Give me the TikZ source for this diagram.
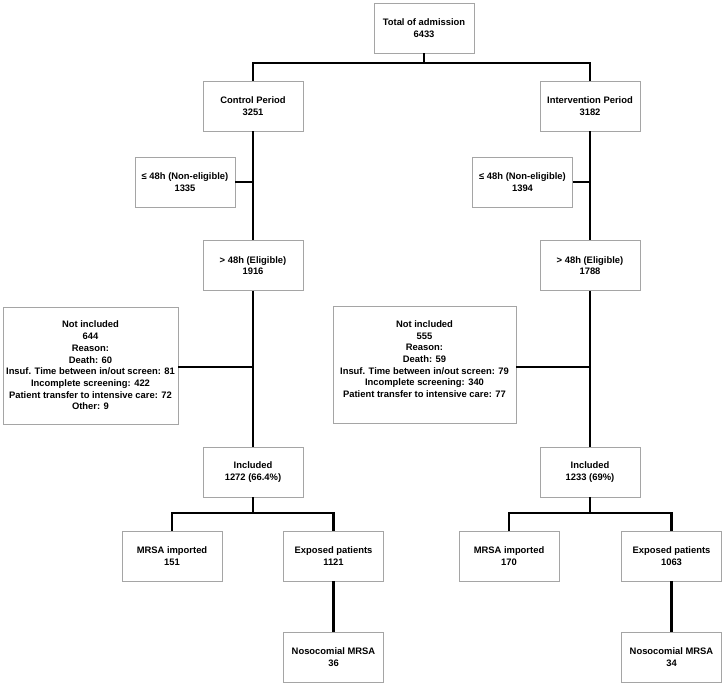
\documentclass[tikz,border=0pt]{standalone}
\usepackage{fontspec}
\setmainfont{Liberation Sans}
\definecolor{boxgray}{RGB}{165,165,165}
\usetikzlibrary{positioning,calc}

\tikzset{
  flowbox/.style={draw=boxgray, line width=0.8pt, fill=white, minimum width=100pt, minimum height=50pt, inner sep=0pt, align=center, font=\bfseries\fontsize{9.4}{11.7}\selectfont},
  reasonbox/.style={flowbox, minimum height=117pt},
  link/.style={line width=2.9pt, draw=black}
}

\begin{document}
\begin{tikzpicture}[x=1pt, y=-1pt]
            \fill[white] (0,0) rectangle (725,686);
            \useasboundingbox (0,0) rectangle (725,686);

            \node[flowbox] (total) at (424,28) {Total of admission\\6433};
            \node[flowbox] (ctrl) at (253,106) {Control Period\\3251};
            \node[flowbox] (intv) at (590,106) {Intervention Period\\3182};

            \node[flowbox] (nonelig1) at (185,182) {≤ 48h (Non-eligible)\\1335};
            \node[flowbox] (nonelig2) at (522.5,182) {≤ 48h (Non-eligible)\\1394};
            \node[flowbox] (elig1) at (253,265.5) {> 48h (Eligible)\\1916};
            \node[flowbox] (elig2) at (590,265.5) {> 48h (Eligible)\\1788};

            \node[reasonbox, minimum width=175pt] (notincl1) at (90.5,365.5) {Not included\\644\\Reason:\\Death: 60\\Insuf. Time between in/out screen: 81\\Incomplete screening: 422\\Patient transfer to intensive care: 72\\Other: 9};
            \node[reasonbox, minimum width=183pt] (notincl2) at (424.5,365) {Not included\\555\\Reason:\\Death: 59\\Insuf. Time between in/out screen: 79\\Incomplete screening: 340\\Patient transfer to intensive care: 77\\ \mbox{}};

            \node[flowbox] (incl1) at (253,472) {Included\\1272 (66.4\%)};
            \node[flowbox] (incl2) at (590,472) {Included\\1233 (69\%)};

            \node[flowbox] (import1) at (172,556) {MRSA imported\\151};
            \node[flowbox] (exposed1) at (333.5,556) {Exposed patients\\1121};
            \node[flowbox] (noso1) at (333.5,657) {Nosocomial MRSA\\36};
            \node[flowbox] (import2) at (509,556) {MRSA imported\\170};
            \node[flowbox] (exposed2) at (671.5,556) {Exposed patients\\1063};
            \node[flowbox] (noso2) at (671.5,657) {Nosocomial MRSA\\34};

            \coordinate (split) at (424,63);
            \coordinate (fork1) at (253,513);
            \coordinate (fork2) at (590,513);

            \draw[link] (total.south) -- (split);
            \draw[link] (ctrl.north) |- (split) -| (intv.north);

            \draw[link] (ctrl.south) -- (elig1.north);
            \draw[link] (nonelig1.east) -- (nonelig1.east -| ctrl.south);
            \draw[link] (elig1.south) -- (incl1.north);
            \draw[link] ([yshift=-1.5pt]notincl1.east) -- ([yshift=-1.5pt]notincl1.east -| elig1.south);
            \draw[link] (incl1.south) -- (fork1);
            \draw[link] (import1.north) |- (fork1) -| (exposed1.north);
            \draw[link] (exposed1.south) -- (noso1.north);

            \draw[link] (intv.south) -- (elig2.north);
            \draw[link] (nonelig2.east) -- (nonelig2.east -| intv.south);
            \draw[link] (elig2.south) -- (incl2.north);
            \draw[link] ([yshift=-2pt]notincl2.east) -- ([yshift=-2pt]notincl2.east -| elig2.south);
            \draw[link] (incl2.south) -- (fork2);
            \draw[link] (import2.north) |- (fork2) -| (exposed2.north);
            \draw[link] (exposed2.south) -- (noso2.north);
        \end{tikzpicture}
\end{document}
